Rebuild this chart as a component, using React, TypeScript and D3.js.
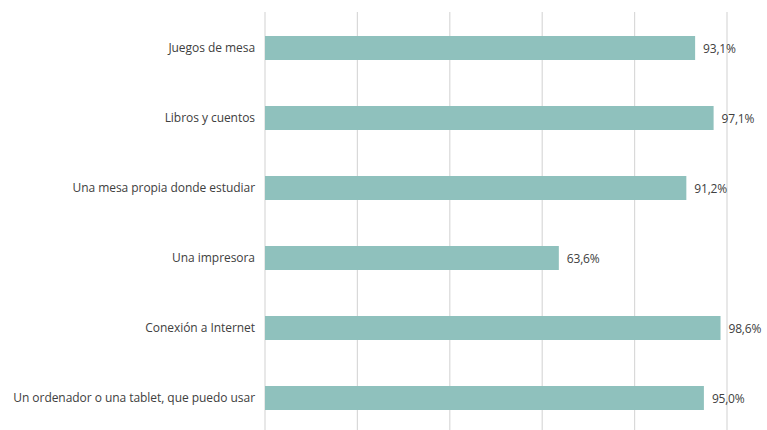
import { useEffect, useRef } from "react";
import * as d3 from "d3";

const categories = [
  "Juegos de mesa",
  "Libros y cuentos",
  "Una mesa propia donde estudiar",
  "Una impresora",
  "Conexión a Internet",
  "Un ordenador o una tablet, que puedo usar",
];
const values = [93.1, 97.1, 91.2, 63.6, 98.6, 95.0];
const gridTicks = [0, 20, 40, 60, 80, 100];

const width = 767;
const height = 430;
const font = "'Open Sans', sans-serif";

const App = () => {
  const ref = useRef<SVGSVGElement | null>(null);

  useEffect(() => {
    if (!ref.current) return;
    const svg = d3.select(ref.current);
    svg.selectAll("*").remove();

    const data = categories.map((c, i) => ({ name: c, value: values[i] }));

    const x = d3.scaleLinear().domain([0, 100]).range([265, 727]);
    const y = d3
      .scaleBand()
      .domain(categories)
      .range([13, 433])
      .paddingInner(0.657)
      .paddingOuter(0.657 / 2);

    // vertical gridlines
    svg.append("g")
      .selectAll("line")
      .data(gridTicks)
      .join("line")
      .attr("x1", d => x(d))
      .attr("x2", d => x(d))
      .attr("y1", 12)
      .attr("y2", height)
      .attr("stroke", "#d9d9d9")
      .attr("stroke-width", 1.2);

    svg.append("g")
      .selectAll("rect")
      .data(data)
      .join("rect")
      .attr("x", x(0))
      .attr("y", d => y(d.name)!)
      .attr("width", d => x(d.value) - x(0))
      .attr("height", y.bandwidth())
      .attr("fill", "#8fc1bd");

    // category labels
    svg.append("g")
      .selectAll("text")
      .data(data)
      .join("text")
      .attr("x", 255)
      .attr("y", d => y(d.name)! + y.bandwidth() / 2)
      .attr("dy", "0.35em")
      .attr("text-anchor", "end")
      .attr("font-family", font)
      .attr("font-size", 12)
      .attr("letter-spacing", -0.05)
      .attr("fill", "#404040")
      .text(d => d.name);

    // value labels
    svg.append("g")
      .selectAll("text")
      .data(data)
      .join("text")
      .attr("x", d => x(d.value) + 8)
      .attr("y", d => y(d.name)! + y.bandwidth() / 2 + 1)
      .attr("dy", "0.35em")
      .attr("font-family", font)
      .attr("font-size", 12)
      .attr("letter-spacing", -0.2)
      .attr("fill", "#404040")
      .text(d => d.value.toFixed(1).replace(".", ",") + "%");
  }, []);

  return (
    <svg
      ref={ref}
      width={width}
      height={height}
      style={{ position: "absolute", left: 0, top: 0, background: "#fff" }}
    />
  );
};

export default App;
